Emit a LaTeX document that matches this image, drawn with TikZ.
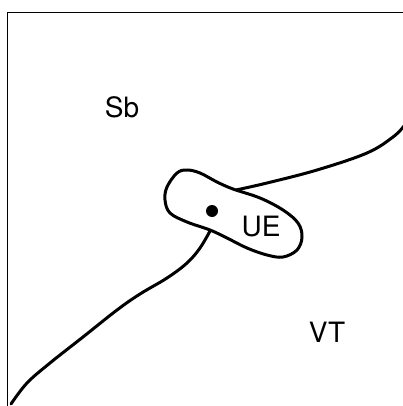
\documentclass[tikz,border=0pt]{standalone}
\usepackage{fontspec}
\setmainfont{TeX Gyre Heros}
\usepackage{tikz}

\begin{document}
\begin{tikzpicture}[x=1pt,y=-1pt]
\useasboundingbox (0,0) rectangle (403,406);
\draw [line width=1.6] (403,12.5) -- (7.5,12.5) -- (7.5,406);
% boundary curves
\draw [line width=3, line cap=round] plot [smooth, tension=0.6] coordinates {(11,404) (27,383) (50,363) (83,337) (117,310) (140,294) (167,278) (187,263) (200,248) (210,231)};
\draw [line width=3] plot [smooth, tension=0.6] coordinates {(236,190) (267,183) (317,170) (367,153) (393,137) (404,126)};
% UE region
\draw [line width=3] plot [smooth cycle, tension=0.6] coordinates {(165,200) (167,187) (177,173) (187,170) (200,173) (217,182) (233,189) (260,198) (283,210) (298,223) (302,237) (297,250) (283,257) (267,255) (247,248) (227,238) (210,230) (187,222) (170,213)};
\fill (212,211) circle (6);
\node (sb) at (122,107) {\fontsize{28}{28}\selectfont Sb};
\node (ue) at (261,227) {\fontsize{28}{28}\selectfont UE};
\node (vt) at (327,332) {\fontsize{28}{28}\selectfont VT};
\end{tikzpicture}
\end{document}
